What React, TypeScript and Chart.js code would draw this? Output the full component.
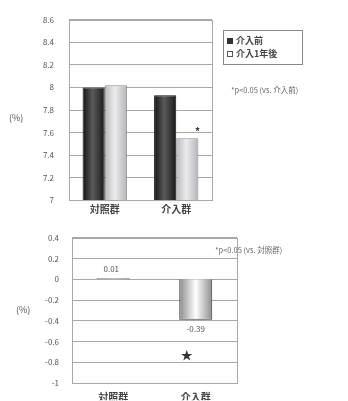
import React, { useEffect, useRef } from "react";
import { Chart, registerables } from "chart.js";

Chart.register(...registerables);

// ---- Data ----
const topCategories = ["対照群", "介入群"];
const beforeValues = [8.0, 7.93];
const afterValues = [8.02, 7.55];
const seriesNames = ["介入前", "介入1年後"];
const topNote = "*p<0.05 (vs. 介入前)";

const bottomCategories = ["対照群", "介入群"];
const changeValues = [0.01, -0.39];
const changeLabels = ["0.01", "-0.39"];
const bottomNote = "*p<0.05 (vs. 対照群)";
const unitLabel = "(%)";

const FONT = "'Noto Sans CJK JP', 'Noto Sans', sans-serif";
const TEXT = "#555";
const GRID = "#a8a8a8";

const fmt = (v: any) => {
  const n = Math.round(Number(v) * 10) / 10;
  return (Object.is(n, -0) ? 0 : n).toString();
};

function barRange(chart: any, dataIndex: number, dsIndex: number, nDs: number, catPct: number, barPct: number) {
  const xs = chart.scales.x;
  const area = chart.chartArea;
  if (!xs || !area) return null;
  const catW = (area.right - area.left) / xs.ticks.length;
  const center = xs.getPixelForValue(dataIndex);
  const groupW = catW * catPct;
  const slot = groupW / nDs;
  const c = center - groupW / 2 + (dsIndex + 0.5) * slot;
  const w = slot * barPct;
  return [c - w / 2, c + w / 2];
}

function cylGrad(stops: [number, string][], fallback: string, nDs: number, catPct: number, barPct: number) {
  return (ctx: any) => {
    const chart = ctx.chart;
    const r = barRange(chart, ctx.dataIndex, ctx.datasetIndex, nDs, catPct, barPct);
    if (!r) return fallback;
    const g = chart.ctx.createLinearGradient(r[0], 0, r[1], 0);
    stops.forEach(([p, col]) => g.addColorStop(p, col));
    return g;
  };
}

const frameAndText = {
  id: "frameAndText",
  afterDraw(chart: any, _args: any, opts: any) {
    const ctx = chart.ctx;
    const a = chart.chartArea;
    ctx.save();
    ctx.strokeStyle = GRID;
    ctx.lineWidth = 1;
    ctx.strokeRect(Math.round(a.left) + 0.5, Math.round(a.top) + 0.5, Math.round(a.right - a.left), Math.round(a.bottom - a.top));
    if (opts.draw) opts.draw(chart, ctx);
    ctx.restore();
  },
};

function TopChart() {
  const ref = useRef<HTMLCanvasElement>(null);
  useEffect(() => {
    const catPct = 0.62;
    const chart = new Chart(ref.current!, {
      type: "bar",
      data: {
        labels: topCategories,
        datasets: [
          {
            label: seriesNames[0],
            data: beforeValues,
            backgroundColor: cylGrad([[0, "#141414"], [0.45, "#5a5a5a"], [1, "#1a1a1a"]], "#2a2a2a", 2, catPct, 1),
            borderColor: "#111",
            borderWidth: 1,
            categoryPercentage: catPct,
            barPercentage: 1,
          },
          {
            label: seriesNames[1],
            data: afterValues,
            backgroundColor: cylGrad([[0, "#b8b8bc"], [0.45, "#ececf0"], [1, "#b4b4b8"]], "#d4d4d8", 2, catPct, 1),
            borderColor: "#8a8a8a",
            borderWidth: 1,
            categoryPercentage: catPct,
            barPercentage: 1,
          },
        ],
      },
      options: {
        responsive: false,
        animation: false,
        devicePixelRatio: 1,
        layout: { padding: { left: 0, right: 136, top: 17, bottom: 0 } },
        plugins: {
          legend: { display: false },
          tooltip: { enabled: false },
          frameAndText: {
            draw: (ch: any, ctx: CanvasRenderingContext2D) => {
              // legend box
              ctx.strokeStyle = "#888";
              ctx.strokeRect(223.5, 30.5, 79, 34);
              ctx.font = `bold 9px ${FONT}`;
              ctx.textBaseline = "middle";
              ctx.fillStyle = "#333";
              ctx.fillRect(227, 38, 6, 6);
              ctx.strokeStyle = "#555";
              ctx.strokeRect(227.5, 51.5, 5, 5);
              ctx.fillStyle = "#444";
              ctx.textAlign = "left";
              ctx.fillText(seriesNames[0], 236, 41);
              ctx.fillText(seriesNames[1], 236, 54);
              // note
              ctx.font = `7.5px ${FONT}`;
              ctx.fillStyle = "#666";
              ctx.fillText(topNote, 231, 90);
              // unit
              ctx.font = `9px ${FONT}`;
              ctx.fillStyle = "#555";
              ctx.fillText(unitLabel, 9, 118);
              // asterisk
              const y = ch.scales.y.getPixelForValue(afterValues[1]);
              const r = barRange(ch, 1, 1, 2, catPct, 1);
              ctx.font = `bold 10px ${FONT}`;
              ctx.textAlign = "center";
              ctx.fillStyle = "#333";
              if (r) ctx.fillText("*", r[1] - 1, y - 7);
            },
          },
        } as any,
        scales: {
          x: {
            grid: { display: false, drawTicks: false },
            border: { color: GRID },
            ticks: { color: "#444", font: { family: FONT, size: 10, weight: "bold" }, padding: 3, maxRotation: 0, minRotation: 0, autoSkip: false },
            afterFit: (s: any) => { s.height = 18; },
          },
          y: {
            min: 7,
            max: 8.6,
            ticks: { stepSize: 0.2, color: TEXT, font: { family: FONT, size: 8 }, padding: 15, callback: fmt },
            grid: { color: GRID, drawTicks: false },
            border: { color: GRID },
            afterFit: (s: any) => { s.width = 69; },
          },
        },
      },
      plugins: [frameAndText],
    });
    return () => chart.destroy();
  }, []);
  return <canvas ref={ref} width={348} height={220} />;
}

function BottomChart() {
  const ref = useRef<HTMLCanvasElement>(null);
  useEffect(() => {
    const catPct = 0.4;
    const chart = new Chart(ref.current!, {
      type: "bar",
      data: {
        labels: bottomCategories,
        datasets: [
          {
            label: "change",
            data: changeValues,
            backgroundColor: cylGrad([[0, "#8a8a8a"], [0.5, "#ffffff"], [1, "#8c8c8c"]], "#ccc", 1, catPct, 1),
            borderColor: "#333",
            borderWidth: 1,
            categoryPercentage: catPct,
            barPercentage: 1,
          },
        ],
      },
      options: {
        responsive: false,
        animation: false,
        devicePixelRatio: 1,
        layout: { padding: { left: 0, right: 111, top: 14, bottom: 0 } },
        plugins: {
          legend: { display: false },
          tooltip: { enabled: false },
          frameAndText: {
            draw: (ch: any, ctx: CanvasRenderingContext2D) => {
              const ys = ch.scales.y;
              const xs = ch.scales.x;
              ctx.font = `8px ${FONT}`;
              ctx.fillStyle = "#555";
              ctx.textAlign = "center";
              ctx.textBaseline = "middle";
              ctx.fillText(changeLabels[0], xs.getPixelForValue(0) - 2, ys.getPixelForValue(changeValues[0]) - 9);
              ctx.fillText(changeLabels[1], xs.getPixelForValue(1), ys.getPixelForValue(changeValues[1]) + 9);
              // star
              ctx.font = `12px ${FONT}`;
              ctx.fillStyle = "#333";
              ctx.fillText("★", xs.getPixelForValue(1) - 9, ys.getPixelForValue(-0.73));
              // note
              ctx.textAlign = "left";
              ctx.font = `7.5px ${FONT}`;
              ctx.fillStyle = "#666";
              ctx.fillText(bottomNote, 215, 30);
              // unit
              ctx.font = `9px ${FONT}`;
              ctx.fillStyle = "#555";
              ctx.fillText(unitLabel, 16, 90);
            },
          },
        } as any,
        scales: {
          x: {
            grid: { display: false, drawTicks: false },
            border: { color: GRID },
            ticks: { color: "#444", font: { family: FONT, size: 10, weight: "bold" }, padding: 8, maxRotation: 0, minRotation: 0, autoSkip: false },
            afterFit: (s: any) => { s.height = 17; },
          },
          y: {
            min: -1,
            max: 0.4,
            ticks: { stepSize: 0.2, color: TEXT, font: { family: FONT, size: 8 }, padding: 13, callback: fmt },
            grid: { color: GRID, drawTicks: false },
            border: { color: GRID },
            afterFit: (s: any) => { s.width = 72; },
          },
        },
      },
      plugins: [frameAndText],
    });
    return () => chart.destroy();
  }, []);
  return <canvas ref={ref} width={348} height={181} />;
}

export default function App() {
  return (
    <div style={{ position: "absolute", left: 0, top: 0, width: 348, height: 401, background: "#fff", overflow: "hidden" }}>
      <div style={{ position: "absolute", left: 0, top: 0, width: 348, height: 220 }}>
        <TopChart />
      </div>
      <div style={{ position: "absolute", left: 0, top: 220, width: 348, height: 181 }}>
        <BottomChart />
      </div>
    </div>
  );
}
